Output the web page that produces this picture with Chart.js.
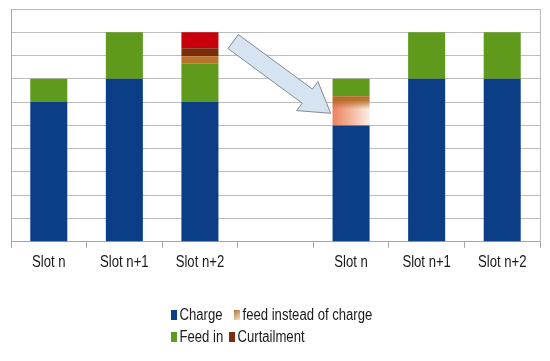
<!DOCTYPE html>
<html><head><meta charset="utf-8">
<script src="https://cdn.jsdelivr.net/npm/chart.js@4"></script>
<style>html,body{margin:0;padding:0;background:#fff}#wrap{width:550px;height:361px;position:relative}</style>
</head><body><div id="wrap"><canvas id="c" width="550" height="361"></canvas></div>
<script>
const categories = ['Slot n', 'Slot n+1', 'Slot n+2', '', 'Slot n', 'Slot n+1', 'Slot n+2'];
const charge = [6, 7, 6, null, 5, 7, 7];
const feedInsteadLow = [0, 0, 0, null, 1.25, 0, 0];
const feedIn = [1, 2, 1.65, null, 0.75, 2, 2];
const feedInsteadHigh = [0, 0, 0.32, null, 0, 0, 0];
const curtailment = [0, 0, 0.34, null, 0, 0, 0];
const excess = [0, 0, 0.69, null, 0, 0, 0];
const legendLabels = ['Charge', 'feed instead of charge', 'Feed in', 'Curtailment'];

const FONT = "'Liberation Sans',Arial,sans-serif";
const TEXT_SX = 0.82; // condensed look of the original text
const C_CHARGE = '#0b3e87', C_FEED = '#5f9a1d', C_INST = '#b9742c', C_CURT = '#7b2c0c', C_RED = '#c8000c';
const BAR_FRAC = 0.49;

const cv = document.getElementById('c');
const c2d = cv.getContext('2d');
const origFill = c2d.fillText.bind(c2d);
const origMeasure = c2d.measureText.bind(c2d);
c2d.fillText = function (t, x, y, mw) {
  this.save();
  this.translate(x, y);
  this.scale(TEXT_SX, 1);
  if (mw !== undefined && mw !== null) origFill(t, 0, 0, mw / TEXT_SX); else origFill(t, 0, 0);
  this.restore();
};
c2d.measureText = function (t) {
  const m = origMeasure(t);
  return {width: m.width * TEXT_SX, actualBoundingBoxAscent: m.actualBoundingBoxAscent,
    actualBoundingBoxDescent: m.actualBoundingBoxDescent, actualBoundingBoxLeft: m.actualBoundingBoxLeft,
    actualBoundingBoxRight: m.actualBoundingBoxRight};
};

function instPattern(ctx) {
  if (ctx.type !== 'data') return '#e39a62';
  const chart = ctx.chart, xs = chart.scales.x, ys = chart.scales.y;
  if (!xs || !ys) return '#e39a62';
  const i = ctx.dataIndex;
  const cx = xs.getPixelForValue(i);
  const hw = xs.width / categories.length * BAR_FRAC / 2;
  const top = ys.getPixelForValue((charge[i] || 0) + (feedInsteadLow[i] || 0));
  const bot = ys.getPixelForValue(charge[i] || 0);
  if (!isFinite(cx) || !isFinite(top) || bot - top < 1) return '#e39a62';
  const left = Math.floor(cx - hw), t0 = Math.floor(top);
  const w = Math.ceil(cx + hw) - left + 1, h = Math.ceil(bot) - t0 + 1;
  const off = document.createElement('canvas');
  off.width = w; off.height = h;
  const o = off.getContext('2d');
  const gh = o.createLinearGradient(0, 0, w, 0);
  gh.addColorStop(0, '#ee7e60');
  gh.addColorStop(0.45, '#f2b296');
  gh.addColorStop(1, '#faf3ec');
  o.fillStyle = gh; o.fillRect(0, 0, w, h);
  const gv = o.createLinearGradient(0, 0, 0, h);
  gv.addColorStop(0, 'rgba(180,104,34,1)');
  gv.addColorStop(0.16, 'rgba(180,104,34,0.85)');
  gv.addColorStop(0.42, 'rgba(180,104,34,0)');
  o.fillStyle = gv; o.fillRect(0, 0, w, h);
  const p = chart.ctx.createPattern(off, 'no-repeat');
  p.setTransform(new DOMMatrix().translate(left, t0));
  return p;
}

const arrowPlugin = {
  id: 'arrow',
  afterDatasetsDraw(chart) {
    const xs = chart.scales.x, ys = chart.scales.y, c = chart.ctx;
    const T = {x: xs.getPixelForValue(2.44), y: ys.getPixelForValue(8.6)};
    const P = {x: xs.getPixelForValue(3.73), y: ys.getPixelForValue(5.52)};
    const dx = P.x - T.x, dy = P.y - T.y, L = Math.hypot(dx, dy);
    const ux = dx / L, uy = dy / L, nx = -uy, ny = ux;
    const sw = 8.7, hw = 18, hl = 29;
    const B = {x: P.x - ux * hl, y: P.y - uy * hl};
    const pts = [
      [T.x + nx * sw, T.y + ny * sw],
      [B.x + nx * sw, B.y + ny * sw],
      [B.x + nx * hw, B.y + ny * hw],
      [P.x, P.y],
      [B.x - nx * hw, B.y - ny * hw],
      [B.x - nx * sw, B.y - ny * sw],
      [T.x - nx * sw, T.y - ny * sw]
    ];
    c.save();
    c.beginPath();
    pts.forEach((p, k) => k ? c.lineTo(p[0], p[1]) : c.moveTo(p[0], p[1]));
    c.closePath();
    c.fillStyle = '#d6e3f1';
    c.fill();
    c.strokeStyle = '#808a95';
    c.lineWidth = 1;
    c.stroke();
    c.restore();
  }
};

const legendPlugin = {
  id: 'customLegend',
  afterDraw(chart) {
    const c = chart.ctx;
    const rows = [315, 337];
    const items = [
      {label: legendLabels[0], color: C_CHARGE, row: 0, x: 171},
      {label: legendLabels[1], color: 'grad', row: 0, x: 234},
      {label: legendLabels[2], color: C_FEED, row: 1, x: 171},
      {label: legendLabels[3], color: C_CURT, row: 1, x: 229}
    ];
    c.save();
    c.font = '16px ' + FONT;
    c.textBaseline = 'middle';
    c.textAlign = 'left';
    items.forEach(it => {
      const y = rows[it.row];
      if (it.color === 'grad') {
        const g = c.createLinearGradient(it.x, y - 5, it.x + 6, y + 5);
        g.addColorStop(0, '#b8712e');
        g.addColorStop(1, '#f6e3cc');
        c.fillStyle = g;
      } else c.fillStyle = it.color;
      c.fillRect(it.x, y - 5, 6, 10);
      c.fillStyle = '#1a1a1a';
      c.fillText(it.label, it.x + 8.5, y + 1);
    });
    c.restore();
  }
};

Chart.defaults.font.family = FONT;
new Chart(cv, {
  type: 'bar',
  data: {
    labels: categories,
    datasets: [
      {label: 'Charge', data: charge, backgroundColor: C_CHARGE},
      {label: 'feed instead of charge', data: feedInsteadLow, backgroundColor: instPattern},
      {label: 'Feed in', data: feedIn, backgroundColor: C_FEED},
      {label: 'feed instead of charge ', data: feedInsteadHigh, backgroundColor: C_INST},
      {label: 'Curtailment', data: curtailment, backgroundColor: C_CURT},
      {label: '', data: excess, backgroundColor: C_RED}
    ]
  },
  options: {
    responsive: false,
    animation: false,
    devicePixelRatio: 1,
    datasets: {bar: {categoryPercentage: 1, barPercentage: BAR_FRAC, borderWidth: 0}},
    layout: {padding: {left: 11, right: 10, top: 9, bottom: 84}},
    plugins: {legend: {display: false}, tooltip: {enabled: false}},
    scales: {
      x: {
        stacked: true,
        grid: {drawOnChartArea: false, drawTicks: true, tickLength: 6, color: '#a6a6a6', offset: true},
        border: {color: '#a6a6a6'},
        ticks: {color: '#1a1a1a', font: {size: 16}, padding: 5, maxRotation: 0, autoSkip: false}
      },
      y: {
        stacked: true, min: 0, max: 10,
        ticks: {display: false, stepSize: 1},
        grid: {color: '#bcbcbc', drawTicks: false},
        border: {color: '#a6a6a6'}
      },
      y2: {
        position: 'right', min: 0, max: 10,
        ticks: {display: false},
        grid: {drawOnChartArea: false, drawTicks: false},
        border: {color: '#bcbcbc'}
      }
    }
  },
  plugins: [arrowPlugin, legendPlugin]
});
</script>
</body></html>
